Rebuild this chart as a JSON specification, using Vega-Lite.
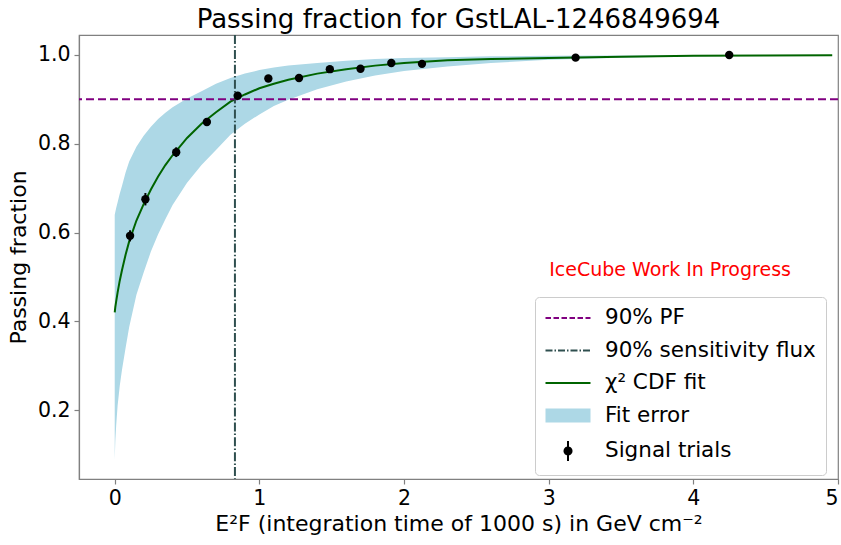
{
  "$schema": "https://vega.github.io/schema/vega-lite/v6.json",
  "autosize": {"type": "none"},
  "padding": {"left": 79, "top": 35, "right": 3, "bottom": 66},
  "width": 759,
  "height": 444,
  "background": "white",
  "title": {"text": "Passing fraction for GstLAL-1246849694", "fontSize": 26, "font": "DejaVu Sans", "fontWeight": "normal", "color": "black", "offset": 1},
  "config": {
    "font": "DejaVu Sans",
    "view": {"stroke": "#808080", "strokeWidth": 1.2},
    "axis": {"domainColor": "#808080", "domainWidth": 1.2, "tickColor": "#808080", "tickWidth": 1.2, "tickSize": 5, "labelFontSize": 20.5, "labelColor": "black", "titleFontSize": 22, "titleColor": "black", "titleFontWeight": "normal", "grid": false, "labelPadding": 4},
    "legend": {"symbolSize": 400, "symbolStrokeWidth": 2, "symbolOpacity": 1, "labelFontSize": 21.5, "labelLimit": 0, "labelColor": "black", "labelFont": "DejaVu Sans", "rowPadding": 10.5, "padding": 10, "symbolOffset": 12, "labelOffset": 26, "fillColor": "white", "strokeColor": "#cccccc", "cornerRadius": 4}
  },
  "datasets": {
    "trials": [
      {"flux": 0.106, "pf": 0.5925, "lo": 0.580, "hi": 0.605},
      {"flux": 0.212, "pf": 0.675, "lo": 0.661, "hi": 0.689},
      {"flux": 0.425, "pf": 0.781, "lo": 0.770, "hi": 0.792},
      {"flux": 0.637, "pf": 0.849, "lo": 0.840, "hi": 0.858},
      {"flux": 0.850, "pf": 0.908, "lo": 0.901, "hi": 0.915},
      {"flux": 1.062, "pf": 0.947, "lo": 0.942, "hi": 0.952},
      {"flux": 1.274, "pf": 0.948, "lo": 0.943, "hi": 0.953},
      {"flux": 1.487, "pf": 0.968, "lo": 0.964, "hi": 0.972},
      {"flux": 1.699, "pf": 0.969, "lo": 0.965, "hi": 0.973},
      {"flux": 1.912, "pf": 0.982, "lo": 0.979, "hi": 0.985},
      {"flux": 2.124, "pf": 0.980, "lo": 0.977, "hi": 0.983},
      {"flux": 3.186, "pf": 0.994, "lo": 0.992, "hi": 0.996},
      {"flux": 4.248, "pf": 1.000, "lo": 0.999, "hi": 1.000}
    ],
    "fit": [
      {"flux": 0.0, "pf": 0.420, "lo": 0.088, "hi": 0.640},
      {"flux": 0.004, "pf": 0.432, "lo": 0.130, "hi": 0.646},
      {"flux": 0.01, "pf": 0.445, "lo": 0.165, "hi": 0.655},
      {"flux": 0.02, "pf": 0.465, "lo": 0.210, "hi": 0.668},
      {"flux": 0.035, "pf": 0.492, "lo": 0.255, "hi": 0.688},
      {"flux": 0.05, "pf": 0.515, "lo": 0.290, "hi": 0.705},
      {"flux": 0.075, "pf": 0.550, "lo": 0.340, "hi": 0.735},
      {"flux": 0.1, "pf": 0.580, "lo": 0.387, "hi": 0.760},
      {"flux": 0.15, "pf": 0.627, "lo": 0.460, "hi": 0.793},
      {"flux": 0.2, "pf": 0.664, "lo": 0.510, "hi": 0.818},
      {"flux": 0.25, "pf": 0.697, "lo": 0.557, "hi": 0.838},
      {"flux": 0.3, "pf": 0.726, "lo": 0.596, "hi": 0.856},
      {"flux": 0.35, "pf": 0.752, "lo": 0.630, "hi": 0.870},
      {"flux": 0.4, "pf": 0.774, "lo": 0.662, "hi": 0.882},
      {"flux": 0.5, "pf": 0.813, "lo": 0.712, "hi": 0.902},
      {"flux": 0.6, "pf": 0.845, "lo": 0.752, "hi": 0.918},
      {"flux": 0.7, "pf": 0.871, "lo": 0.786, "hi": 0.935},
      {"flux": 0.8, "pf": 0.895, "lo": 0.820, "hi": 0.948},
      {"flux": 0.9, "pf": 0.911, "lo": 0.845, "hi": 0.958},
      {"flux": 1.0, "pf": 0.925, "lo": 0.866, "hi": 0.966},
      {"flux": 1.1, "pf": 0.935, "lo": 0.885, "hi": 0.972},
      {"flux": 1.2, "pf": 0.944, "lo": 0.899, "hi": 0.976},
      {"flux": 1.4, "pf": 0.958, "lo": 0.923, "hi": 0.982},
      {"flux": 1.6, "pf": 0.968, "lo": 0.940, "hi": 0.987},
      {"flux": 1.8, "pf": 0.976, "lo": 0.954, "hi": 0.991},
      {"flux": 2.0, "pf": 0.982, "lo": 0.964, "hi": 0.993},
      {"flux": 2.3, "pf": 0.988, "lo": 0.974, "hi": 0.995},
      {"flux": 2.6, "pf": 0.991, "lo": 0.982, "hi": 0.997},
      {"flux": 3.0, "pf": 0.993, "lo": 0.989, "hi": 0.998},
      {"flux": 3.5, "pf": 0.996, "lo": 0.994, "hi": 0.999},
      {"flux": 4.0, "pf": 0.998, "lo": 0.997, "hi": 0.9995},
      {"flux": 4.5, "pf": 0.999, "lo": 0.998, "hi": 0.9998},
      {"flux": 4.96, "pf": 0.9995, "lo": 0.999, "hi": 1.0}
    ],
    "legendItems": [
      {"series": "90% PF"},
      {"series": "90% sensitivity flux"},
      {"series": "χ² CDF fit"},
      {"series": "Fit error"},
      {"series": "Signal trials"}
    ],
    "note": [{"flux": 3.839, "pf": 0.5155, "label": "IceCube Work In Progress"}]
  },
  "encoding": {
    "x": {"field": "flux", "type": "quantitative", "scale": {"domain": [-0.247, 5], "nice": false, "zero": false},
      "axis": {"title": "E²F (integration time of 1000 s) in GeV cm⁻²", "values": [0, 1, 2, 3, 4, 5], "format": "d", "titlePadding": 5}},
    "y": {"field": "pf", "type": "quantitative", "scale": {"domain": [0.0446, 1.045], "nice": false, "zero": false},
      "axis": {"title": "Passing fraction", "values": [0.2, 0.4, 0.6, 0.8, 1.0], "format": ".1f", "titlePadding": 7}}
  },
  "layer": [
    {
      "data": {"name": "fit"},
      "mark": {"type": "area", "color": "#add8e6", "opacity": 1},
      "encoding": {"y": {"field": "lo", "type": "quantitative"}, "y2": {"field": "hi"}}
    },
    {
      "data": {"name": "fit"},
      "mark": {"type": "line", "color": "#006400", "strokeWidth": 2},
      "encoding": {}
    },
    {
      "data": {"name": "note"},
      "mark": {"type": "rule", "color": "#800080", "strokeWidth": 2, "strokeDash": [8, 4]},
      "encoding": {"x": null, "y": {"datum": 0.9}}
    },
    {
      "data": {"name": "note"},
      "mark": {"type": "rule", "color": "#2f4f4f", "strokeWidth": 2, "strokeDash": [9, 2.2, 1.5, 2.2]},
      "encoding": {"y": null, "x": {"datum": 0.831}}
    },
    {
      "data": {"name": "trials"},
      "mark": {"type": "rule", "color": "black", "strokeWidth": 2},
      "encoding": {"y": {"field": "lo", "type": "quantitative"}, "y2": {"field": "hi"}}
    },
    {
      "data": {"name": "trials"},
      "mark": {"type": "circle", "color": "black", "size": 70, "opacity": 1},
      "encoding": {}
    },
    {
      "data": {"name": "note"},
      "mark": {"type": "text", "color": "red", "fontSize": 19, "font": "DejaVu Sans", "align": "center", "baseline": "middle"},
      "encoding": {"text": {"field": "label"}}
    },
    {
      "data": {"name": "legendItems"},
      "mark": {"type": "point", "filled": false, "opacity": 1},
      "encoding": {
        "x": {"field": "lx", "type": "quantitative"},
        "y": {"field": "ly", "type": "quantitative"},
        "fill": {"field": "series", "type": "nominal",
          "scale": {"domain": ["90% PF", "90% sensitivity flux", "χ² CDF fit", "Fit error", "Signal trials"], "range": ["transparent", "transparent", "transparent", "#add8e6", "black"]},
          "legend": {"title": null, "orient": "none", "legendX": 456, "legendY": 262}},
        "stroke": {"field": "series", "type": "nominal",
          "scale": {"domain": ["90% PF", "90% sensitivity flux", "χ² CDF fit", "Fit error", "Signal trials"], "range": ["#800080", "#2f4f4f", "#006400", "transparent", "black"]}},
        "shape": {"field": "series", "type": "nominal",
          "scale": {"domain": ["90% PF", "90% sensitivity flux", "χ² CDF fit", "Fit error", "Signal trials"], "range": ["M-2.25,0H2.25", "M-2.25,0H2.25", "M-2.25,0H2.25", "M-2.25,-0.7H2.25V0.7H-2.25Z", "M0,-1V1M-0.35,0A0.35,0.35 0 1,1 0.35,0A0.35,0.35 0 1,1 -0.35,0Z"]}},
        "strokeDash": {"field": "series", "type": "nominal",
          "scale": {"domain": ["90% PF", "90% sensitivity flux", "χ² CDF fit", "Fit error", "Signal trials"], "range": [[5.5, 2.5], [7, 2, 1.5, 2], [1, 0], [1, 0], [1, 0]]}}
      }
    }
  ]
}
